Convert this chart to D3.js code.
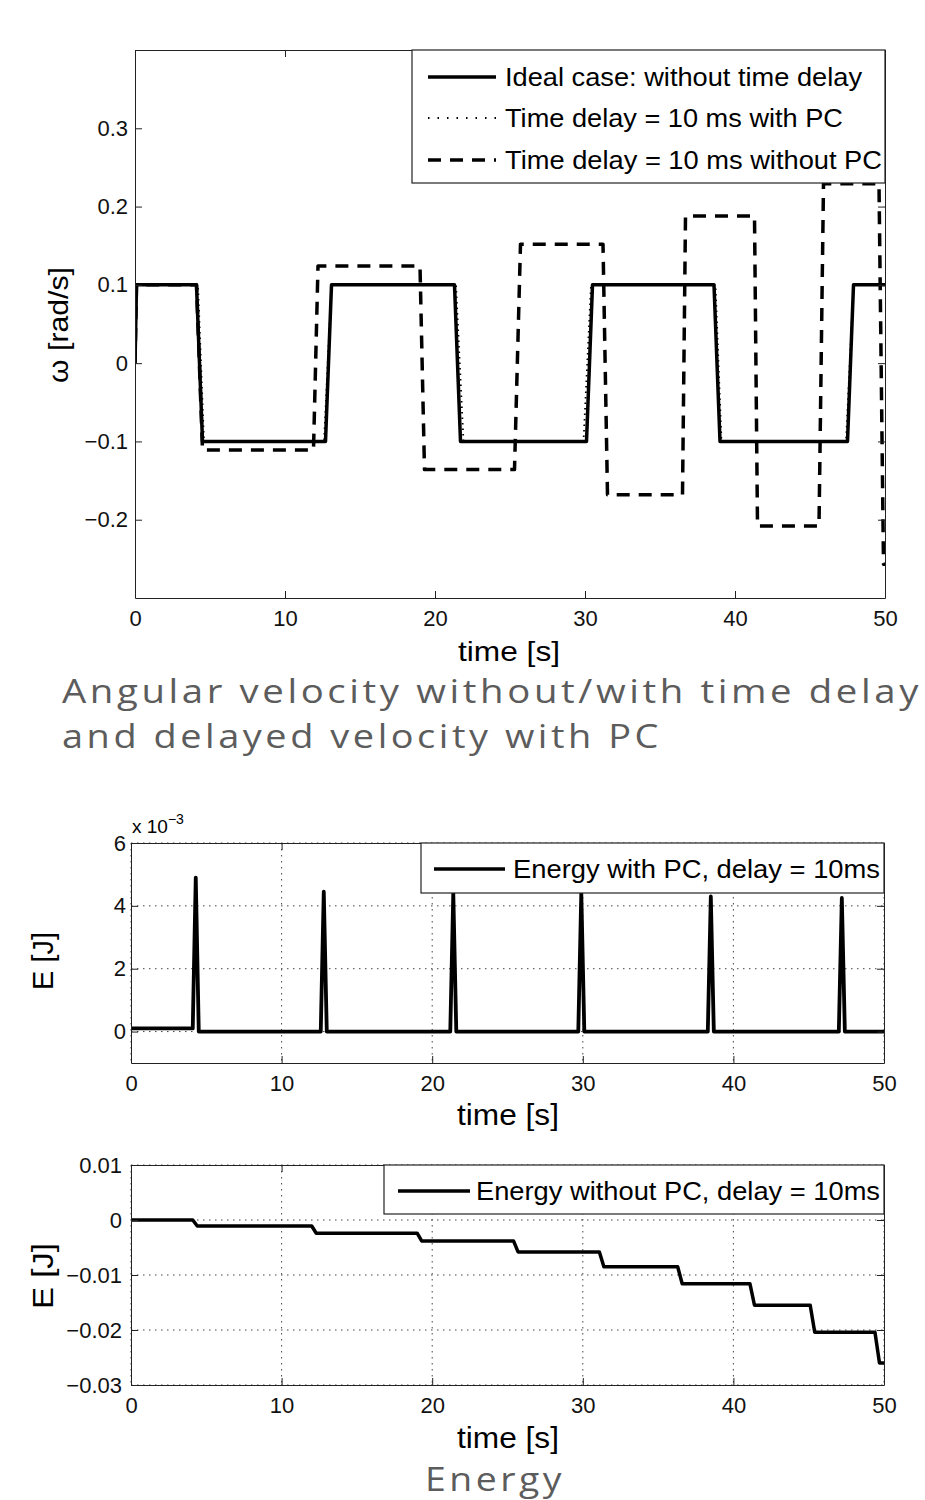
<!DOCTYPE html>
<html>
<head>
<meta charset="utf-8">
<script src="https://cdn.jsdelivr.net/npm/d3@7/dist/d3.min.js"></script>
<style>
body { margin: 0; background: #fff; }
.grid { stroke: #444; stroke-width: 1; stroke-dasharray: 1.5 4.5; }
.caption { font-family: "Open Sans", sans-serif; fill: #5c5c5c; font-size: 32px; letter-spacing: 3px; }
</style>
</head>
<body>
<svg id="chart" width="925" height="1500"></svg>
<script>
var FONT = '"Liberation Sans", Arial, sans-serif'

// time axis, shared by all three panels
var timeTicks = [0, 10, 20, 30, 40, 50]

// panel 1: angular velocity [rad/s]
var idealT = [0, 0.1, 4.1, 4.5, 12.7, 13.1, 21.3, 21.7, 30.1, 30.5, 38.6, 39.0, 47.5, 47.9, 50]
var idealW = [0, 0.1, 0.1, -0.1, -0.1, 0.1, 0.1, -0.1, -0.1, 0.1, 0.1, -0.1, -0.1, 0.1, 0.1]
var pcT = [0, 0.1, 4.2, 4.6, 12.6, 13.1, 21.4, 21.9, 29.9, 30.4, 38.7, 39.1, 47.4, 47.9, 50]
var pcW = [0, 0.1, 0.1, -0.1, -0.1, 0.1, 0.1, -0.1, -0.1, 0.1, 0.1, -0.1, -0.1, 0.1, 0.1]
var noPcT = [0, 0.1, 4.1, 4.5, 11.9, 12.2, 19.0, 19.3, 25.3, 25.7, 31.2, 31.5, 36.5, 36.7, 41.3, 41.5, 45.6, 45.9, 49.6, 49.9, 50]
var noPcW = [0, 0.1, 0.1, -0.111, -0.111, 0.124, 0.124, -0.136, -0.136, 0.152, 0.152, -0.168, -0.168, 0.188, 0.188, -0.208, -0.208, 0.229, 0.229, -0.257, -0.257]
var wTicks = [-0.2, -0.1, 0, 0.1, 0.2, 0.3]

// panel 2: energy with PC [x 1e-3 J]
var ePcT = [0, 4.1, 4.3, 4.5, 12.6, 12.8, 13.0, 21.2, 21.4, 21.6, 29.7, 29.9, 30.1, 38.3, 38.5, 38.7, 47.0, 47.2, 47.4, 50]
var ePcE = [0.1, 0.1, 4.9, 0, 0, 4.45, 0, 0, 4.4, 0, 0, 4.4, 0, 0, 4.3, 0, 0, 4.25, 0, 0]
var ePcTicks = [0, 2, 4, 6]

// panel 3: energy without PC [J]
var eT = [0, 4.1, 4.4, 12.0, 12.3, 19.0, 19.3, 25.4, 25.7, 31.1, 31.4, 36.3, 36.6, 41.1, 41.4, 45.1, 45.4, 49.4, 49.7, 50]
var eE = [0, 0, -0.0011, -0.0011, -0.0024, -0.0024, -0.0038, -0.0038, -0.0058, -0.0058, -0.0085, -0.0085, -0.0116, -0.0116, -0.0155, -0.0155, -0.0204, -0.0204, -0.026, -0.026]
var eTicks = [-0.03, -0.02, -0.01, 0, 0.01]

var svg = d3.select('#chart')
svg.append('rect').attr('width', 925).attr('height', 1500).attr('fill', '#fff')

var zip = (ts, vs) => ts.map((t, i) => [t, vs[i]])

var panel = (b, yDomain, yTicks, fmt, grid, padY) => {
    var x = d3.scaleLinear().domain([0, 50]).range([b.left, b.right])
    var y = d3.scaleLinear().domain(yDomain).range([b.bottom, b.top])
    var g = svg.append('g')

    if (grid) {
        g.append('g').selectAll('line').data(timeTicks).enter().append('line')
            .attr('class', 'grid')
            .attr('x1', d => x(d)).attr('x2', d => x(d))
            .attr('y1', b.top).attr('y2', b.bottom)
        g.append('g').selectAll('line').data(yTicks).enter().append('line')
            .attr('class', 'grid')
            .attr('x1', b.left).attr('x2', b.right)
            .attr('y1', d => y(d)).attr('y2', d => y(d))
    }

    var clipId = 'clip' + Math.round(b.top)
    svg.append('clipPath').attr('id', clipId)
        .append('rect').attr('x', b.left).attr('y', b.top)
        .attr('width', b.right - b.left).attr('height', b.bottom - b.top)
    var lines = g.append('g').attr('clip-path', `url(#${clipId})`)

    var axes = g.append('g')
    var style = sel => {
        sel.attr('font-size', 22).attr('font-family', FONT)
        sel.selectAll('path, line').attr('stroke', '#222')
        sel.selectAll('text').attr('fill', '#111')
    }
    axes.append('g').attr('transform', `translate(0,${b.bottom})`)
        .call(d3.axisBottom(x).tickValues(timeTicks).tickSizeInner(-7).tickSizeOuter(0).tickPadding(12))
        .call(style)
    axes.append('g').attr('transform', `translate(0,${b.top})`)
        .call(d3.axisTop(x).tickValues(timeTicks).tickSizeInner(-7).tickSizeOuter(0).tickFormat(''))
        .call(style)
    axes.append('g').attr('transform', `translate(${b.left},0)`)
        .call(d3.axisLeft(y).tickValues(yTicks).tickSizeInner(-7).tickSizeOuter(0).tickPadding(padY).tickFormat(fmt))
        .call(style)
    axes.append('g').attr('transform', `translate(${b.right},0)`)
        .call(d3.axisRight(y).tickValues(yTicks).tickSizeInner(-7).tickSizeOuter(0).tickFormat(''))
        .call(style)

    return { x, y, g, lines, b }
}

var drawLine = (p, pts, width, dash) => {
    var line = d3.line().x(d => p.x(d[0])).y(d => p.y(d[1]))
    p.lines.append('path')
        .attr('d', line(pts))
        .attr('fill', 'none')
        .attr('stroke', '#000')
        .attr('stroke-width', width)
        .attr('stroke-dasharray', dash || null)
        .attr('stroke-linejoin', 'round')
}

var legend = (p, box, items) => {
    var lg = p.g.append('g')
    lg.append('rect')
        .attr('x', box.x).attr('y', box.y).attr('width', box.w).attr('height', box.h)
        .attr('fill', '#fff').attr('stroke', '#222').attr('stroke-width', 1.2)
    items.forEach(it => {
        lg.append('line')
            .attr('x1', it.x1).attr('x2', it.x2).attr('y1', it.y).attr('y2', it.y)
            .attr('stroke', '#000').attr('stroke-width', it.width)
            .attr('stroke-dasharray', it.dash || null)
        lg.append('text')
            .attr('x', it.tx).attr('y', it.y).attr('dy', '0.36em')
            .attr('font-family', FONT).attr('font-size', 26)
            .attr('textLength', it.len).attr('lengthAdjust', 'spacingAndGlyphs')
            .text(it.label)
    })
}

var label = (txt, x, y, size, len, rot) => svg.append('text')
    .attr('transform', `translate(${x},${y})` + (rot ? ' rotate(-90)' : ''))
    .attr('text-anchor', 'middle')
    .attr('font-family', FONT).attr('font-size', size)
    .attr('textLength', len).attr('lengthAdjust', 'spacingAndGlyphs')
    .text(txt)

var caption = (txt, x, y, len, anchor) => svg.append('text')
    .attr('class', 'caption')
    .attr('x', x).attr('y', y)
    .attr('text-anchor', anchor || 'start')
    .attr('textLength', len).attr('lengthAdjust', 'spacingAndGlyphs')
    .text(txt)

var fmt1 = d => d === 0 ? '0' : d3.format('.1f')(d)
var fmt2 = d => d === 0 ? '0' : d3.format('.2f')(d)

/* ---- panel 1 ---- */
var p1 = panel({ left: 135, right: 885, top: 50, bottom: 598 }, [-0.3, 0.4], wTicks, fmt1, false, 7)
drawLine(p1, zip(idealT, idealW), 3.5)
drawLine(p1, zip(pcT, pcW), 1.8, '1.5 4')
drawLine(p1, zip(noPcT, noPcW), 3.5, '13 9')
legend(p1, { x: 412, y: 50, w: 473, h: 133 }, [
    { label: 'Ideal case: without time delay', x1: 428, x2: 496, tx: 505, y: 77, width: 3.5, len: 357 },
    { label: 'Time delay = 10 ms with PC', x1: 428, x2: 496, tx: 505, y: 118, width: 1.8, dash: '1.5 8', len: 338 },
    { label: 'Time delay = 10 ms without PC', x1: 428, x2: 496, tx: 505, y: 160, width: 3.5, dash: '13 9', len: 377 }
])
label('time [s]', 509, 661, 28, 102)
label('\u03c9 [rad/s]', 68, 325, 28, 116, true)

caption('Angular velocity without/with time delay', 62, 703, 860)
caption('and delayed velocity with PC', 62, 748, 600)

/* ---- panel 2 ---- */
var p2 = panel({ left: 131, right: 884, top: 843, bottom: 1063 }, [-1, 6], ePcTicks, d3.format('d'), true, 5)
drawLine(p2, zip(ePcT, ePcE), 3.8)
legend(p2, { x: 421, y: 843, w: 463, h: 50 }, [
    { label: 'Energy with PC, delay = 10ms', x1: 434, x2: 505, tx: 513, y: 869, width: 3.5, len: 367 }
])
var ex = svg.append('text').attr('x', 132).attr('y', 833).attr('font-family', FONT).attr('font-size', 19)
ex.append('tspan').text('x 10')
ex.append('tspan').attr('dy', -9).attr('font-size', 14).text('\u22123')
label('time [s]', 508, 1125, 29, 102)
label('E [J]', 53, 961, 29, 58, true)

/* ---- panel 3 ---- */
var p3 = panel({ left: 131, right: 884, top: 1165, bottom: 1385 }, [-0.03, 0.01], eTicks, fmt2, true, 9)
drawLine(p3, zip(eT, eE), 3.5)
legend(p3, { x: 384, y: 1165, w: 500, h: 49 }, [
    { label: 'Energy without PC, delay = 10ms', x1: 398, x2: 470, tx: 476, y: 1191, width: 3.5, len: 404 }
])
label('time [s]', 508, 1448, 29, 102)
label('E [J]', 53, 1276, 29, 66, true)

caption('Energy', 495, 1491, 140, 'middle')
</script>
</body>
</html>
